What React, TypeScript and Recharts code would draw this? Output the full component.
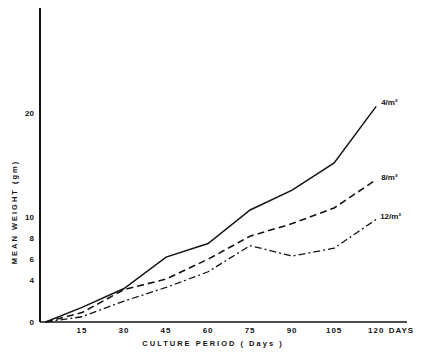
import { LineChart, Line, XAxis, YAxis, Label } from "recharts";

const days = [2, 15, 30, 45, 60, 75, 90, 105, 120];
const density4 = [0, 1.4, 3.2, 6.2, 7.5, 10.7, 12.6, 15.2, 20.6];
const density8 = [0, 0.9, 3.1, 4.1, 6.0, 8.2, 9.4, 10.9, 13.6];
const density12 = [0, 0.5, 2.0, 3.3, 4.8, 7.3, 6.3, 7.05, 9.8];
const xTicks = [15, 30, 45, 60, 75, 90, 105, 120, 129];
const yTicks = [0, 4, 6, 8, 10, 20];

const data = days.map((d, i) => ({
  day: d,
  d4: density4[i],
  d8: density8[i],
  d12: density12[i],
}));

const INK = "#141414";
const FONT = "'Liberation Sans', Arial, sans-serif";

const endLabel = (text: string, dx: number, dy: number) => (props: any) => {
  if (props.index !== days.length - 1) return <g />;
  return (
    <text
      x={props.x + dx}
      y={props.y + dy}
      fontFamily={FONT}
      fontSize={8}
      fontWeight="bold"
      fill={INK}
    >
      {text}
    </text>
  );
};

export default function App() {
  return (
    <div style={{ position: "absolute", left: 0, top: 0, background: "#fff" }}>
      <LineChart
        width={425}
        height={354}
        data={data}
        margin={{ top: 8, right: 18, left: 0, bottom: 0 }}
      >
        <XAxis
          dataKey="day"
          type="number"
          domain={[0, 131]}
          ticks={xTicks}
          tickFormatter={(v) => (v === 129 ? "DAYS" : String(v))}
          tickLine={false}
          tickSize={5}
          tickMargin={0}
          height={32}
          axisLine={{ stroke: INK, strokeWidth: 1.5 }}
          tick={{ fill: INK, fontSize: 8, fontWeight: "bold", fontFamily: FONT, letterSpacing: 1 }}
        >
          <Label
            content={() => (
              <text
                x={213}
                y={346}
                textAnchor="middle"
                fontFamily={FONT}
                fontSize={7.5}
                fontWeight="bold"
                letterSpacing={2}
                fill={INK}
              >
                CULTURE PERIOD ( Days )
              </text>
            )}
          />
        </XAxis>
        <YAxis
          type="number"
          domain={[0, 30]}
          ticks={yTicks}
          width={40}
          tickLine={false}
          tickSize={3}
          tickMargin={3}
          axisLine={{ stroke: INK, strokeWidth: 2 }}
          tick={{ fill: INK, fontSize: 8, fontWeight: "bold", fontFamily: FONT }}
        >
          <Label
            content={() => (
              <text
                transform="translate(17,212) rotate(-90)"
                textAnchor="middle"
                fontFamily={FONT}
                fontSize={7.5}
                fontWeight="bold"
                letterSpacing={2}
                fill={INK}
              >
                MEAN WEIGHT (gm)
              </text>
            )}
          />
        </YAxis>
        <Line
          dataKey="d4"
          stroke={INK}
          strokeWidth={1.5}
          dot={false}
          isAnimationActive={false}
          label={endLabel("4/m²", 5, -1)}
        />
        <Line
          dataKey="d8"
          stroke={INK}
          strokeWidth={1.6}
          strokeDasharray="7 4"
          dot={false}
          isAnimationActive={false}
          label={endLabel("8/m²", 5, 0)}
        />
        <Line
          dataKey="d12"
          stroke={INK}
          strokeWidth={1.3}
          strokeDasharray="7 3 2 3"
          dot={false}
          isAnimationActive={false}
          label={endLabel("12/m²", 4, 0)}
        />
      </LineChart>
    </div>
  );
}
